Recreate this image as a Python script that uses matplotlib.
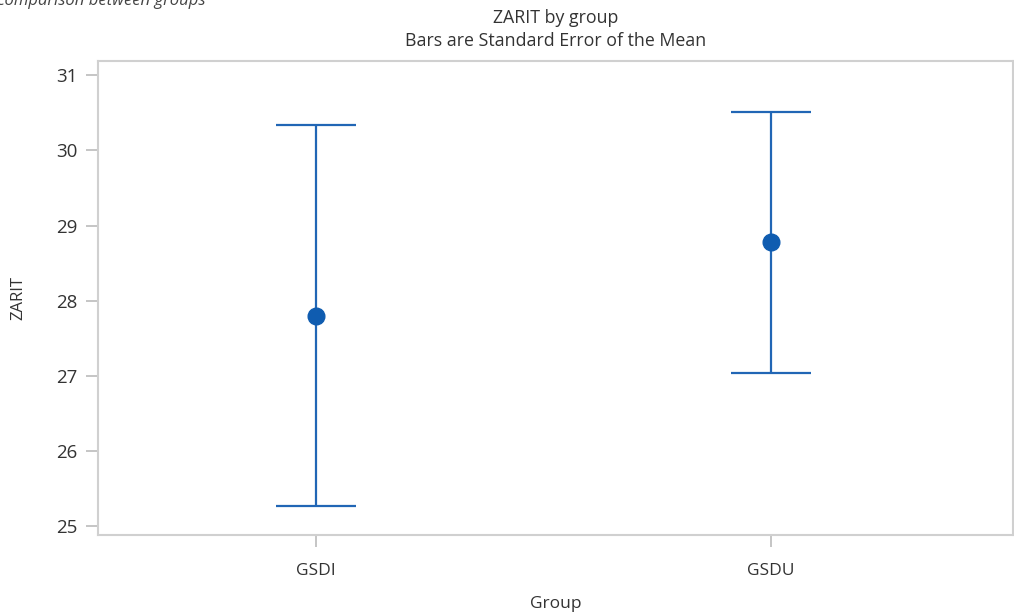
import matplotlib
matplotlib.use('Agg')
import matplotlib.pyplot as plt

# data
groups = ['GSDI', 'GSDU']
means = [27.80, 28.775]
sem = [2.535, 1.735]
yticks = [25, 26, 27, 28, 29, 30, 31]

plt.rcParams['font.family'] = ['Open Sans', 'DejaVu Sans']

fig = plt.figure(figsize=(10.14, 6.13), dpi=100)
ax = fig.add_axes([0.0966, 0.1272, 0.9024, 0.7733])

x = list(range(len(groups)))
ax.errorbar(x, means, yerr=sem, fmt='o', color='#0f5cb0', ecolor='#2166b5',
            elinewidth=1.6, capsize=28.8, capthick=1.6, markersize=12)

ax.set_xlim(-0.479, 1.532)
ax.set_ylim(24.88, 31.19)
ax.set_xticks(x)
ax.set_xticklabels(groups)
ax.set_yticks(yticks)

for s in ax.spines.values():
    s.set_color('#d0d0d0')
    s.set_linewidth(1.5)
ax.tick_params(axis='both', direction='out', length=8.5, width=1.2,
               color='#bbbbbb', labelcolor='#333333', labelsize=12.5, pad=6)
ax.tick_params(axis='x', pad=12)
ax.tick_params(axis='y', labelsize=13.5)

ax.set_xlabel('Group', fontsize=12.5, color='#333333', labelpad=12)
ax.set_ylabel('ZARIT', fontsize=12, color='#333333', labelpad=22)
ax.set_title('ZARIT by group\nBars are Standard Error of the Mean',
             fontsize=12.8, color='#333333', pad=11, linespacing=1.35)

fig.text(-0.003, 1 - 5 / 613, 'comparison between groups', style='italic',
         fontsize=12, color='#444444', va='baseline', ha='left')

fig.savefig('out.png', dpi=100)
